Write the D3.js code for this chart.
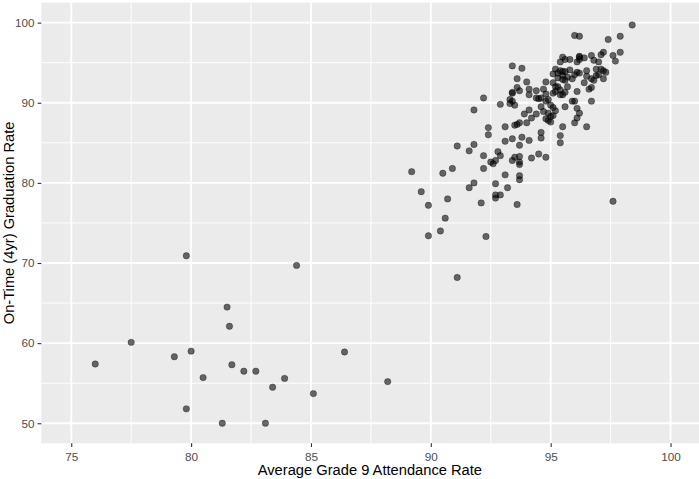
<!DOCTYPE html>
<html>
<head>
<meta charset="utf-8">
<script src="https://cdn.jsdelivr.net/npm/d3@7"></script>
<style>
  body { margin: 0; background: #fff; }
  svg { display: block; font-family: "Liberation Sans", Arial, sans-serif; }
</style>
</head>
<body>
<div id="chart"></div>
<script>
// attendance (x) and graduation (y)
var attendance = [
  79.8, 84.4, 81.5, 81.6, 77.5, 80.0, 79.3, 76.0, 81.7, 82.2, 82.7, 80.5, 83.9, 83.4, 85.1, 86.4, 88.2, 79.8, 81.3, 83.1,
  98.4, 96.0, 96.2, 97.4, 97.9, 97.9, 97.6, 97.7, 97.2, 97.1, 96.7, 96.4, 96.2, 96.2, 96.1, 95.8, 95.6, 95.5, 95.4, 96.8,
  97.0, 96.9, 97.1, 97.2, 97.3, 97.0, 96.9, 97.2, 96.5, 96.5, 96.7, 96.2, 96.1, 96.0, 95.8, 95.6, 95.4, 95.3, 95.2, 95.1,
  95.5, 95.7, 95.9, 95.3, 95.5, 95.6, 94.8, 95.1, 96.4, 96.8,
  93.4, 93.8, 93.6, 94.0,
  93.6, 93.7, 93.4, 94.1, 94.4, 94.1, 94.4, 93.3, 93.4, 93.3, 93.5, 92.9, 92.2, 91.8, 94.1, 93.9, 94.4, 94.2, 94.0, 93.7,
  93.5, 93.6, 93.1, 92.4, 92.4, 93.4, 93.1, 93.8, 94.1, 93.7, 91.1, 91.8, 91.6, 92.2, 92.8, 92.9, 92.7, 93.5, 93.7, 94.2, 94.5,
  94.7, 94.8, 95.2, 95.2, 95.4, 95.6, 95.7, 96.1, 96.6, 96.7, 95.1, 95.4, 95.5, 94.6, 94.8, 94.9, 95.9, 96.0, 96.7, 94.6,
  95.0, 95.1, 95.6, 96.1, 96.2, 94.7, 94.9, 95.2, 95.1, 94.8, 94.9, 95.0, 96.1, 96.0, 95.5, 96.5, 94.6, 94.6, 95.4, 95.4, 94.8,
  89.2, 90.5, 90.9, 92.2, 92.5, 92.6, 93.4, 93.7, 93.7, 93.1, 93.7, 93.7, 91.8, 91.6, 92.7, 93.2, 92.7, 92.9, 92.7, 89.6,
  90.7, 92.1, 93.6, 89.9, 90.6, 90.4, 89.9, 92.3, 91.1, 97.6,
  96.2, 95.5, 95.3, 94.5, 93.4, 95.0
];
var graduation = [
  70.9, 69.7, 64.5, 62.1, 60.1, 59.0, 58.3, 57.4, 57.3, 56.5, 56.5, 55.7, 55.6, 54.5, 53.7, 58.9, 55.2, 51.8, 50.0, 50.0,
  99.7, 98.4, 98.3, 97.9, 98.3, 96.3, 95.9, 95.2, 96.3, 96.0, 95.9, 95.6, 95.8, 95.4, 95.1, 95.4, 95.4, 95.7, 95.1, 95.3,
  95.1, 94.2, 94.2, 94.0, 93.8, 93.5, 93.4, 93.0, 94.0, 93.3, 93.0, 93.7, 93.8, 93.5, 94.1, 93.9, 94.0, 93.7, 94.2, 93.6,
  93.4, 93.2, 93.0, 93.1, 92.9, 92.8, 92.6, 92.5, 92.5, 92.8,
  94.6, 94.3, 93.0, 92.6,
  91.9, 91.5, 91.2, 91.7, 91.5, 91.0, 90.6, 90.4, 90.2, 89.9, 89.7, 89.8, 90.6, 89.1, 89.1, 88.6, 88.6, 88.1, 87.5, 87.5,
  87.2, 87.3, 87.0, 86.9, 86.0, 85.5, 85.2, 85.7, 85.3, 84.7, 84.6, 84.8, 84.0, 83.4, 83.9, 83.4, 82.8, 83.2, 83.3, 83.1, 83.6,
  91.7, 91.1, 92.0, 91.4, 91.6, 91.3, 92.0, 91.4, 91.7, 91.9, 91.2, 91.0, 91.0, 90.6, 90.2, 90.4, 90.2, 90.2, 90.2, 89.5,
  89.7, 89.4, 89.5, 89.3, 88.7, 88.9, 88.7, 89.0, 88.4, 88.0, 87.8, 87.6, 88.1, 87.5, 87.0, 87.0, 86.3, 85.6, 85.9, 85.0, 83.2,
  81.4, 81.2, 81.8, 81.8, 82.6, 82.4, 82.8, 82.6, 82.3, 81.0, 80.9, 80.4, 80.0, 79.4, 79.9, 79.4, 78.5, 78.5, 78.1, 78.9,
  78.0, 77.5, 77.3, 77.2, 75.6, 74.0, 73.4, 73.3, 68.2, 77.7,
  95.7, 93.9, 92.0, 90.5, 91.3, 88.3
];
var xTicks = [75, 80, 85, 90, 95, 100];
var yTicks = [50, 60, 70, 80, 90, 100];
var xMinor = [77.5, 82.5, 87.5, 92.5, 97.5];
var yMinor = [55, 65, 75, 85, 95];

var data = attendance.map(function(a, i) { return {x: a, y: graduation[i]}; });

var svgWidth = 699, svgHeight = 479;
var margin = {top: 2.6, right: -1.5, bottom: 35.7, left: 41.3};
var width = svgWidth - margin.left - margin.right;
var height = svgHeight - margin.top - margin.bottom;

var svg = d3.select("#chart").append("svg")
  .attr("width", svgWidth).attr("height", svgHeight);

var x = d3.scaleLinear().domain([73.75, 101.25]).range([0, width]);
var y = d3.scaleLinear().domain([47.5, 102.5]).range([height, 0]);

var chartGroup = svg.append("g")
  .attr("transform", `translate(${margin.left}, ${margin.top})`);

chartGroup.append("rect")
  .attr("width", width).attr("height", height)
  .attr("fill", "#EBEBEB");

// minor grid
chartGroup.selectAll(".xminor").data(xMinor).enter().append("line")
  .attr("x1", d => x(d)).attr("x2", d => x(d))
  .attr("y1", 0).attr("y2", height)
  .attr("stroke", "#fff").attr("stroke-width", 0.95);
chartGroup.selectAll(".yminor").data(yMinor).enter().append("line")
  .attr("y1", d => y(d)).attr("y2", d => y(d))
  .attr("x1", 0).attr("x2", width)
  .attr("stroke", "#fff").attr("stroke-width", 0.95);

// major grid
chartGroup.selectAll(".xmajor").data(xTicks).enter().append("line")
  .attr("x1", d => x(d)).attr("x2", d => x(d))
  .attr("y1", 0).attr("y2", height)
  .attr("stroke", "#fff").attr("stroke-width", 1.9);
chartGroup.selectAll(".ymajor").data(yTicks).enter().append("line")
  .attr("y1", d => y(d)).attr("y2", d => y(d))
  .attr("x1", 0).attr("x2", width)
  .attr("stroke", "#fff").attr("stroke-width", 1.9);

// points
chartGroup.selectAll("circle").data(data).enter().append("circle")
  .attr("cx", d => x(d.x))
  .attr("cy", d => y(d.y))
  .attr("r", 3.2)
  .attr("fill", "#000").attr("fill-opacity", 0.58)
  .attr("stroke", "#000").attr("stroke-opacity", 0.45).attr("stroke-width", 0.7);

// axes
var xAxis = chartGroup.append("g")
  .attr("transform", `translate(0, ${height})`)
  .call(d3.axisBottom(x).tickValues(xTicks).tickSize(3.7).tickPadding(5.5));
var yAxis = chartGroup.append("g")
  .call(d3.axisLeft(y).tickValues(yTicks).tickSize(3.7).tickPadding(3));

[xAxis, yAxis].forEach(function(ax) {
  ax.select(".domain").remove();
  ax.selectAll(".tick line").attr("stroke", "#333333").attr("stroke-width", 1.1);
  ax.selectAll(".tick text").attr("fill", "#4D4D4D")
    .style("font-size", "11.7px").style("font-family", "Liberation Sans, Arial, sans-serif");
});

svg.append("text")
  .attr("x", margin.left + width / 2 - 1)
  .attr("y", 474.5)
  .attr("text-anchor", "middle")
  .attr("fill", "#000")
  .style("font-size", "14.7px")
  .text("Average Grade 9 Attendance Rate");

svg.append("text")
  .attr("transform", `translate(14, ${margin.top + height / 2}) rotate(-90)`)
  .attr("text-anchor", "middle")
  .attr("fill", "#000")
  .style("font-size", "14.7px")
  .text("On-Time (4yr) Graduation Rate");
</script>
</body>
</html>
